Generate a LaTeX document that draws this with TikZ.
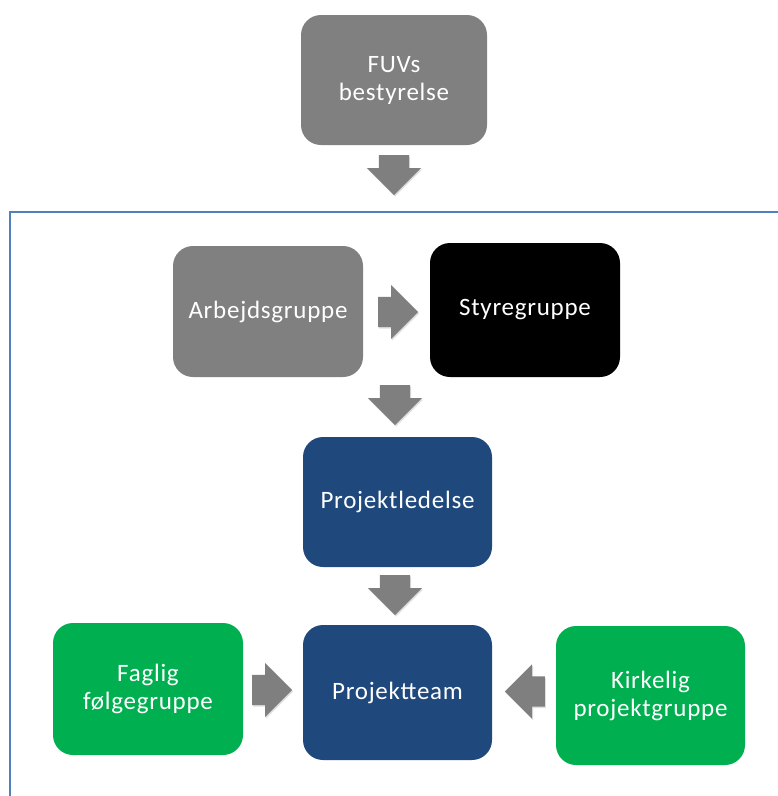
\documentclass[tikz,border=0pt]{standalone}
\usepackage{fontspec}
\setmainfont{Carlito}
\usetikzlibrary{shapes.arrows,shadows}
\definecolor{boxgray}{HTML}{808080}
\definecolor{arrgray}{HTML}{7F7F7F}
\definecolor{navy}{HTML}{1F497D}
\definecolor{grn}{HTML}{00B050}
\definecolor{frameblue}{HTML}{4F81BD}
\tikzset{
  orgbox/.style={rounded corners=20pt, text=white, align=center, inner sep=0pt,
    font=\fontsize{25}{28}\selectfont\addfontfeatures{LetterSpace=3}},
  barrow/.style={single arrow, fill=arrgray, draw=none, inner xsep=0pt, inner ysep=15pt,
    text height=0pt, text depth=0pt, minimum height=40pt, single arrow head extend=12pt,
    single arrow tip angle=90, anchor=tail,
    drop shadow={opacity=0.25, shadow xshift=1pt, shadow yshift=-1.5pt}},
}
\begin{document}
\begin{tikzpicture}[x=1pt,y=-1pt]
\useasboundingbox (0,0) rectangle (778,796);
\fill[white] (0,0) rectangle (778,796);
% frame
\draw[frameblue, line width=1.5pt] (10,800) -- (10,212) -- (782,212);
% boxes
\node[orgbox, fill=boxgray, minimum width=186pt, minimum height=130pt] (fuv) at (394,80) {FUVs\\bestyrelse};
\node[orgbox, fill=boxgray, minimum width=190pt, minimum height=131pt] (arb) at (268,311.5) {Arbejdsgruppe};
\node[orgbox, fill=black, minimum width=190pt, minimum height=134pt] (sty) at (525,310) {Styregruppe};
\node[orgbox, fill=navy, minimum width=189pt, minimum height=130pt] (pl) at (397.5,502) {Projektledelse};
\node[orgbox, fill=grn, minimum width=190pt, minimum height=132pt] (fag) at (148,689) {Faglig\\følgegruppe};
\node[orgbox, fill=navy, minimum width=189pt, minimum height=135pt] (pt) at (397.5,692.5) {Projektteam};
\node[orgbox, fill=grn, minimum width=189pt, minimum height=139pt] (kir) at (650.5,695.5) {Kirkelig\\projektgruppe};
% block arrows
\node[barrow, rotate=-90] (a1) at (394,155) {};
\node[barrow] (a2) at (378,312) {};
\node[barrow, rotate=-90] (a3) at (395,385) {};
\node[barrow, rotate=-90] (a4) at (395,575) {};
\node[barrow] (a5) at (252,690) {};
\node[barrow, rotate=180] (a6) at (545,691.5) {};
\end{tikzpicture}
\end{document}
